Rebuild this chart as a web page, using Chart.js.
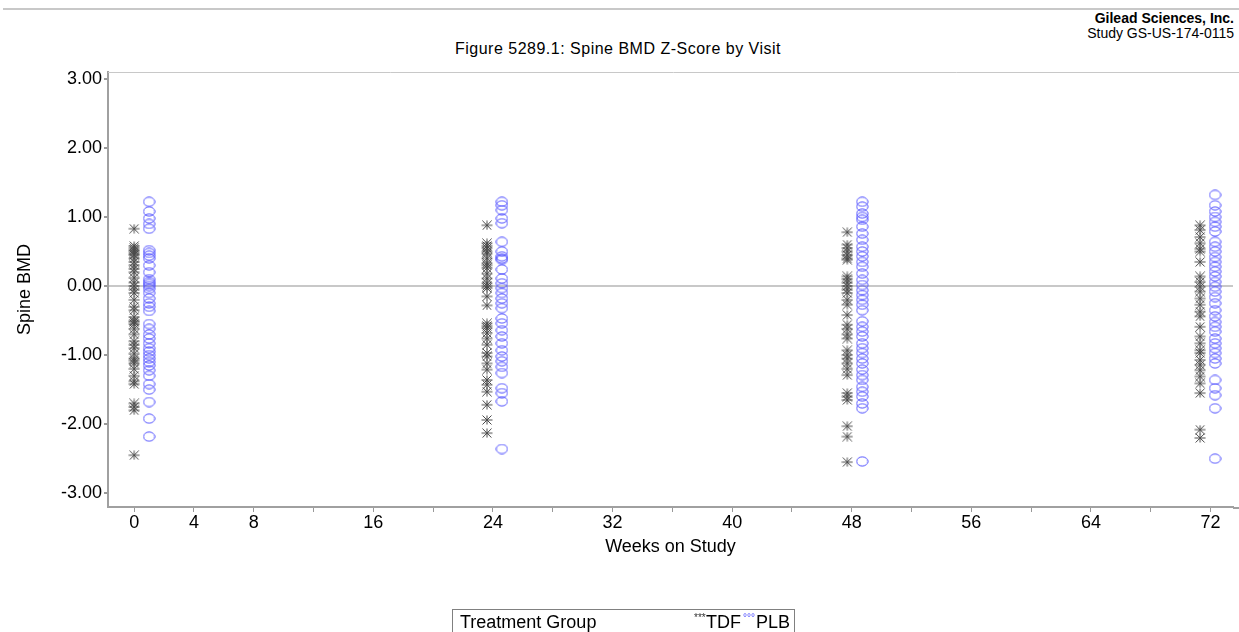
<!DOCTYPE html>
<html>
<head>
<meta charset="utf-8">
<title>Spine BMD Z-Score by Visit</title>
<script src="https://cdn.jsdelivr.net/npm/chart.js@4.4.0/dist/chart.umd.min.js"></script>
<style>
  body { margin: 0; background: #fff; font-family: "Liberation Sans", Arial, sans-serif; overflow: hidden; }
  #page { position: relative; width: 1239px; height: 632px; }
  #topline { position: absolute; left: 3px; right: 0; top: 8px; height: 2px; background: #c8c8c8; }
  .hdr { position: absolute; font-size: 14px; line-height: 16px; color: #000; white-space: nowrap; }
  #company { right: 5px; top: 10px; font-weight: bold; }
  #study { right: 5px; top: 25px; }
  #figtitle { left: 0; width: 1236px; text-align: center; top: 41px; font-size: 16px; letter-spacing: 0.5px; }
  #chartBox { position: absolute; left: 0; top: 0; width: 1239px; height: 632px; }
  #legend { position: absolute; left: 452px; top: 609px; width: 341px; height: 30px; border: 1px solid #808080; font-size: 18px; line-height: 25px; color: #000; white-space: nowrap; }
  #legend span { position: absolute; top: 0; }
  #legend .sym { top: -5px; font-size: 10px; }
</style>
</head>
<body>
<div id="page">
  <div id="topline"></div>
  <div class="hdr" id="company">Gilead Sciences, Inc.</div>
  <div class="hdr" id="study">Study GS-US-174-0115</div>
  <div class="hdr" id="figtitle">Figure 5289.1: Spine BMD Z-Score by Visit</div>
  <div id="chartBox"><canvas id="myChart"></canvas></div>
  <div id="legend">
    <span style="left:7px;">Treatment Group</span>
    <span class="sym" style="left:241px;color:#333;">***</span>
    <span style="left:253px;">TDF</span>
    <span class="sym" style="left:290px;color:#4b4bff;">&deg;&deg;&deg;</span>
    <span style="left:303px;">PLB</span>
  </div>
</div>
<script>
// visit weeks as plotted for each group (PLB sits a little to the right)
const tdfVisitX = [0, 23.6, 47.7, 71.3];
const plbVisitX = [1, 24.6, 48.7, 72.3];

// Spine BMD Z-scores, per visit
const tdfWeek0 = [0.83, 0.58, 0.55, 0.52, 0.5, 0.47, 0.45, 0.4, 0.35, 0.3, 0.25, 0.2, 0.12, 0.05, 0.0, -0.05, -0.1, -0.2, -0.3, -0.35, -0.45, -0.5, -0.52, -0.55, -0.62, -0.7, -0.8, -0.85, -0.9, -0.98, -1.05, -1.08, -1.12, -1.2, -1.3, -1.38, -1.42, -1.7, -1.75, -1.8, -2.45];
const tdfWeek24 = [0.88, 0.62, 0.58, 0.55, 0.5, 0.47, 0.4, 0.33, 0.3, 0.26, 0.18, 0.11, 0.04, 0.0, -0.03, -0.15, -0.28, -0.54, -0.58, -0.61, -0.68, -0.76, -0.85, -0.97, -1.02, -1.12, -1.21, -1.36, -1.43, -1.53, -1.72, -1.94, -2.13];
const tdfWeek48 = [0.78, 0.6, 0.55, 0.5, 0.45, 0.4, 0.38, 0.14, 0.1, 0.05, 0.0, -0.05, -0.1, -0.2, -0.27, -0.42, -0.56, -0.62, -0.7, -0.76, -0.93, -1.0, -1.05, -1.12, -1.2, -1.29, -1.55, -1.6, -1.65, -2.03, -2.18, -2.55];
const tdfWeek72 = [0.88, 0.81, 0.71, 0.62, 0.54, 0.5, 0.35, 0.14, 0.06, -0.01, -0.08, -0.18, -0.27, -0.37, -0.44, -0.59, -0.73, -0.83, -0.93, -0.97, -1.07, -1.14, -1.22, -1.31, -1.41, -1.55, -2.08, -2.2];

const plbWeek0 = [1.22, 1.08, 0.98, 0.9, 0.83, 0.52, 0.48, 0.44, 0.4, 0.3, 0.2, 0.1, 0.06, 0.03, 0.0, -0.04, -0.1, -0.18, -0.25, -0.3, -0.36, -0.55, -0.62, -0.7, -0.76, -0.83, -0.9, -0.95, -1.0, -1.05, -1.1, -1.15, -1.22, -1.3, -1.42, -1.5, -1.68, -1.92, -2.18];
const plbWeek24 = [1.22, 1.17, 1.1, 0.98, 0.91, 0.64, 0.5, 0.43, 0.4, 0.38, 0.24, 0.11, 0.04, -0.03, -0.1, -0.18, -0.25, -0.32, -0.47, -0.54, -0.64, -0.73, -0.83, -0.93, -1.02, -1.09, -1.17, -1.26, -1.48, -1.55, -1.67, -2.36];
const plbWeek48 = [1.22, 1.15, 1.05, 1.0, 0.96, 0.86, 0.76, 0.67, 0.57, 0.5, 0.43, 0.35, 0.28, 0.18, 0.09, 0.015, -0.06, -0.13, -0.2, -0.27, -0.35, -0.51, -0.59, -0.66, -0.73, -0.83, -0.9, -0.97, -1.05, -1.12, -1.21, -1.29, -1.36, -1.46, -1.53, -1.6, -1.7, -1.77, -2.54];
const plbWeek72 = [1.32, 1.17, 1.08, 1.0, 0.93, 0.86, 0.79, 0.64, 0.57, 0.5, 0.42, 0.35, 0.28, 0.21, 0.14, 0.06, -0.01, -0.08, -0.16, -0.25, -0.35, -0.44, -0.52, -0.59, -0.66, -0.76, -0.83, -0.9, -0.97, -1.05, -1.12, -1.36, -1.48, -1.58, -1.77, -2.5];

// axis ticks
const xTickValues = [0, 4, 8, 12, 16, 20, 24, 28, 32, 36, 40, 44, 48, 52, 56, 60, 64, 68, 72];
const xTickLabels = ["0", "4", "8", "", "16", "", "24", "", "32", "", "40", "", "48", "", "56", "", "64", "", "72"];
const yTickValues = [-3, -2, -1, 0, 1, 2, 3];
const yTickLabels = ["-3.00", "-2.00", "-1.00", "0.00", "1.00", "2.00", "3.00"];

const fontFamily = "'Liberation Sans', Arial, sans-serif";

function toPoints(visitX, groups) {
  const pts = [];
  groups.forEach((vals, i) => {
    vals.forEach((v) => pts.push({ x: visitX[i], y: v }));
  });
  return pts;
}

// small marker images: a flattened circle and an asterisk
function makeCircleMarker() {
  const c = document.createElement("canvas");
  c.width = 13;
  c.height = 11;
  const g = c.getContext("2d");
  g.strokeStyle = "#4f4fff";
  g.lineWidth = 1;
  g.beginPath();
  g.ellipse(6.5, 5.5, 5.6, 4.6, 0, 0, Math.PI * 2);
  g.stroke();
  return c;
}

function makeStarMarker() {
  const c = document.createElement("canvas");
  c.width = 12;
  c.height = 10;
  const g = c.getContext("2d");
  g.strokeStyle = "#4a4a4a";
  g.lineWidth = 1;
  g.beginPath();
  g.moveTo(0.5, 5); g.lineTo(11.5, 5);
  g.moveTo(6, 0.5); g.lineTo(6, 9.5);
  g.moveTo(1.5, 0.5); g.lineTo(10.5, 9.5);
  g.moveTo(10.5, 0.5); g.lineTo(1.5, 9.5);
  g.stroke();
  return c;
}

// thin frame line along the top of the plot area
const frameTop = {
  id: "frameTop",
  afterDraw(chart) {
    const { ctx, chartArea } = chart;
    ctx.save();
    ctx.strokeStyle = "#c8c8c8";
    ctx.lineWidth = 1;
    ctx.beginPath();
    ctx.moveTo(chartArea.left, chartArea.top + 0.5);
    ctx.lineTo(chart.width, chartArea.top + 0.5);
    ctx.stroke();
    ctx.strokeStyle = "#a0a0a0";
    ctx.lineWidth = 2;
    ctx.beginPath();
    ctx.moveTo(chartArea.right, chartArea.bottom + 1);
    ctx.lineTo(chart.width, chartArea.bottom + 1);
    ctx.stroke();
    ctx.restore();
  },
};

const chartData = {
  datasets: [
    {
      label: "TDF",
      data: toPoints(tdfVisitX, [tdfWeek0, tdfWeek24, tdfWeek48, tdfWeek72]),
      pointStyle: makeStarMarker(),
      pointRadius: 5,
      showLine: false,
    },
    {
      label: "PLB",
      data: toPoints(plbVisitX, [plbWeek0, plbWeek24, plbWeek48, plbWeek72]),
      pointStyle: makeCircleMarker(),
      pointRadius: 5,
      showLine: false,
    },
  ],
};

const config = {
  type: "scatter",
  data: chartData,
  plugins: [frameTop],
  options: {
    responsive: true,
    maintainAspectRatio: false,
    animation: false,
    layout: { padding: { top: 72, right: 0, bottom: 70, left: 0 } },
    plugins: {
      legend: { display: false },
      title: { display: false },
      tooltip: { enabled: false },
    },
    scales: {
      x: {
        type: "linear",
        min: -1.75,
        max: 73.5,
        afterFit: (scale) => { scale.height = 55; },
        afterBuildTicks: (scale) => { scale.ticks = xTickValues.map((v) => ({ value: v })); },
        ticks: {
          autoSkip: false,
          maxRotation: 0,
          padding: 0,
          color: "#000",
          font: { family: fontFamily, size: 18 },
          callback: (value) => xTickLabels[xTickValues.indexOf(value)],
        },
        grid: { drawOnChartArea: false, tickLength: 5, tickColor: "#999", tickWidth: 1 },
        border: { display: true, color: "#a0a0a0", width: 2 },
        title: {
          display: true,
          text: "Weeks on Study",
          color: "#000",
          font: { family: fontFamily, size: 18 },
          padding: { top: 0, bottom: 4 },
        },
      },
      y: {
        type: "linear",
        min: -3.2,
        max: 3.1,
        afterFit: (scale) => { scale.width = 108; },
        afterBuildTicks: (scale) => { scale.ticks = yTickValues.map((v) => ({ value: v })); },
        ticks: {
          autoSkip: false,
          padding: 2,
          color: "#000",
          font: { family: fontFamily, size: 18 },
          callback: (value) => yTickLabels[yTickValues.indexOf(value)],
        },
        grid: {
          drawOnChartArea: true,
          tickLength: 4,
          tickColor: "#999",
          lineWidth: 2,
          color: (ctx) => (ctx.tick && ctx.tick.value === 0 ? "#c8c8c8" : "rgba(0,0,0,0)"),
        },
        border: { display: true, color: "#a0a0a0", width: 2 },
        title: {
          display: true,
          text: "Spine BMD",
          color: "#000",
          font: { family: fontFamily, size: 18 },
          padding: { top: 14, bottom: 0 },
        },
      },
    },
  },
};

new Chart(document.getElementById("myChart"), config);
</script>
</body>
</html>
